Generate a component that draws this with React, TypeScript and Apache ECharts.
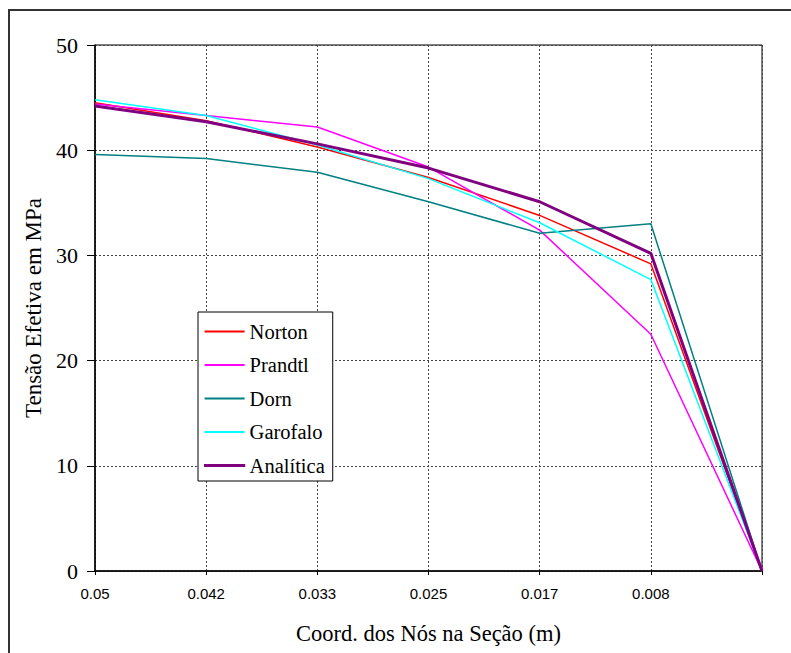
import React, { useEffect, useRef } from "react";
import * as echarts from "echarts";

const categories = ["0.05", "0.042", "0.033", "0.025", "0.017", "0.008", ""];
const norton = [44.5, 42.8, 40.3, 37.4, 33.8, 29.2, 0];
const prandtl = [44.4, 43.3, 42.2, 38.4, 32.4, 22.5, 0];
const dorn = [39.6, 39.2, 37.9, 35.1, 32.1, 33.0, 0];
const garofalo = [44.8, 43.3, 40.5, 37.3, 33.1, 27.7, 0];
const analitica = [44.2, 42.7, 40.6, 38.3, 35.1, 30.2, 0];
const yTicks = { min: 0, max: 50, interval: 10 };

const serif = "Liberation Serif";
const sans = "Liberation Sans";

export default function App() {
  const ref = useRef<HTMLDivElement>(null);
  useEffect(() => {
    document.body.style.margin = "0";
    const chart = echarts.init(ref.current!, null, { renderer: "svg" });
    const mk = (name: string, data: number[], color: string, width: number) => ({
      name,
      type: "line",
      data,
      symbol: "none",
      color,
      itemStyle: { color },
      lineStyle: { color, width },
      z: width > 2 ? 5 : 3,
    });
    chart.setOption({
      animation: false,
      backgroundColor: "#fff",
      grid: {
        left: 95,
        top: 45,
        width: 667,
        height: 526,
        show: true,
        borderColor: "#000",
        borderWidth: 1,
        backgroundColor: "transparent",
      },
      graphic: [
        {
          type: "polyline",
          shape: { points: [[9, 660], [9, 10], [800, 10]] },
          style: { stroke: "#333", lineWidth: 2, fill: null },
        },
      ],
      legend: {
        orient: "vertical",
        left: 198,
        top: 312,
        width: 134,
        borderColor: "#000",
        borderWidth: 1,
        backgroundColor: "#fff",
        padding: [9, 8, 5, 6],
        icon: "rect",
        itemWidth: 40,
        itemHeight: 2,
        itemGap: 12.5,
        textStyle: { fontFamily: serif, fontSize: 20.5, color: "#000", lineHeight: 20 },
        data: [
          "Norton",
          "Prandtl",
          "Dorn",
          "Garofalo",
          { name: "Analítica", itemStyle: { borderColor: "#800080", borderWidth: 1.2 } },
        ],
      },
      xAxis: {
        type: "category",
        data: categories,
        boundaryGap: false,
        name: "Coord. dos Nós na Seção (m)",
        nameLocation: "middle",
        nameGap: 51,
        nameTextStyle: { fontFamily: serif, fontSize: 22.5, color: "#000" },
        axisLine: { lineStyle: { color: "#000", width: 1.5 } },
        axisTick: { show: true, length: 4, lineStyle: { color: "#000" } },
        axisLabel: { fontFamily: sans, fontSize: 15, color: "#000", margin: 15, interval: 0 },
        splitLine: { show: true, lineStyle: { color: "#444", type: [2, 2], width: 1 } },
      },
      yAxis: {
        type: "value",
        min: yTicks.min,
        max: yTicks.max,
        interval: yTicks.interval,
        name: "Tensão Efetiva em MPa",
        nameLocation: "middle",
        nameGap: 47,
        nameTextStyle: { fontFamily: serif, fontSize: 23, color: "#000" },
        axisLine: { show: true, lineStyle: { color: "#000", width: 1.5 } },
        axisTick: { show: true, length: 8, lineStyle: { color: "#000" } },
        axisLabel: { fontFamily: serif, fontSize: 22, color: "#000", margin: 17 },
        splitLine: { show: true, lineStyle: { color: "#444", type: [2, 2], width: 1 } },
      },
      series: [
        mk("Norton", norton, "#FF0000", 1.5),
        mk("Prandtl", prandtl, "#FF00FF", 1.5),
        mk("Dorn", dorn, "#008080", 1.5),
        mk("Garofalo", garofalo, "#00FFFF", 1.5),
        mk("Analítica", analitica, "#800080", 3),
      ],
    });
    return () => chart.dispose();
  }, []);
  return <div ref={ref} style={{ width: 791, height: 653 }} />;
}
